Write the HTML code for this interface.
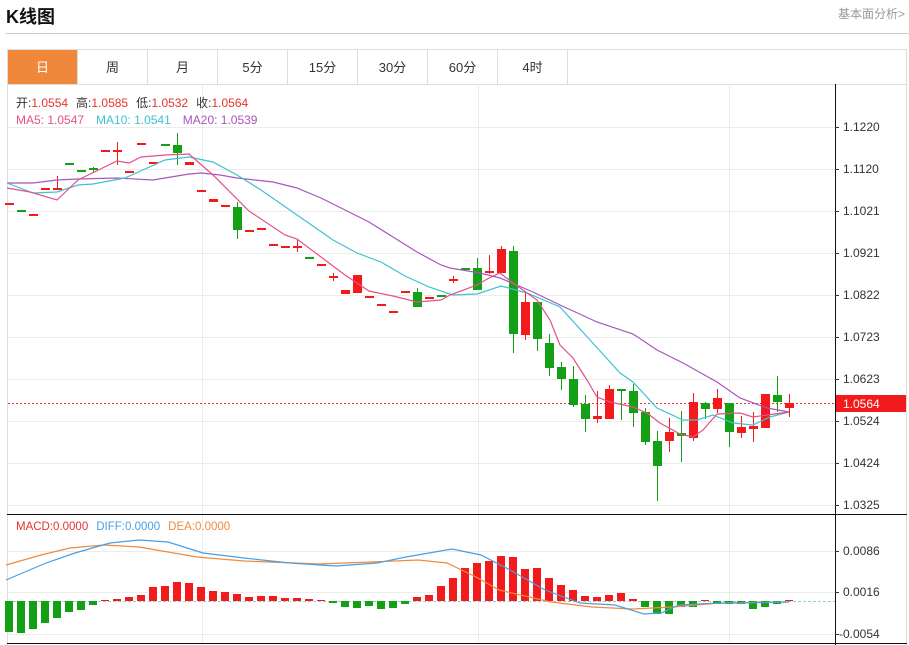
<!DOCTYPE html>
<html><head><meta charset="utf-8"><style>
body{margin:0;width:909px;height:645px;background:#fff;font-family:"Liberation Sans","Noto Sans CJK SC",sans-serif;position:relative;overflow:hidden}
.t{position:absolute;left:6px;top:3px;font-size:18px;font-weight:bold;color:#111}
.r{position:absolute;right:4px;top:5px;font-size:12px;color:#999}
.hr{position:absolute;left:6px;right:0;top:33px;border-top:1px solid #ccc}
.tabs{position:absolute;left:7px;top:49px;height:35px;width:900px;border:1px solid #ddd;border-bottom:none;box-sizing:border-box}
.tab{position:absolute;top:0;height:35px;width:70px;border-right:1px solid #ddd;box-sizing:border-box;text-align:center;line-height:35px;font-size:13px;color:#333}
svg{position:absolute;left:0;top:0}
</style></head><body>
<div class="t">K线图</div><div class="r">基本面分析&gt;</div><div class="hr"></div>
<div class="tabs">
<div class="tab" style="left:0;background:#f0883c;color:#fff">日</div>
<div class="tab" style="left:70px">周</div>
<div class="tab" style="left:140px">月</div>
<div class="tab" style="left:210px">5分</div>
<div class="tab" style="left:280px">15分</div>
<div class="tab" style="left:350px">30分</div>
<div class="tab" style="left:420px">60分</div>
<div class="tab" style="left:490px">4时</div>
</div>
<svg width="909" height="645" viewBox="0 0 909 645" font-family="Liberation Sans, Noto Sans CJK SC, sans-serif">
<g stroke="#ddd" stroke-width="1">
<line x1="7.5" y1="84" x2="7.5" y2="645"/><line x1="906.5" y1="84" x2="906.5" y2="645"/>
<line x1="7" y1="84.5" x2="907" y2="84.5"/>
</g>
<g stroke="#ececec" stroke-width="1">
<line x1="8" x2="835" y1="127.5" y2="127.5"/><line x1="8" x2="835" y1="169.5" y2="169.5"/><line x1="8" x2="835" y1="211.5" y2="211.5"/><line x1="8" x2="835" y1="253.5" y2="253.5"/><line x1="8" x2="835" y1="295.5" y2="295.5"/><line x1="8" x2="835" y1="337.5" y2="337.5"/><line x1="8" x2="835" y1="379.5" y2="379.5"/><line x1="8" x2="835" y1="421.5" y2="421.5"/><line x1="8" x2="835" y1="463.5" y2="463.5"/><line x1="8" x2="835" y1="505.5" y2="505.5"/>
<line x1="8" x2="835" y1="551.5" y2="551.5"/><line x1="8" x2="835" y1="592.5" y2="592.5"/><line x1="8" x2="835" y1="634.5" y2="634.5"/>
<line x1="202.5" x2="202.5" y1="84" y2="643"/><line x1="478.5" x2="478.5" y1="84" y2="643"/><line x1="729.5" x2="729.5" y1="84" y2="643"/>
</g>
<g stroke="#111" stroke-width="1">
<line x1="835.5" y1="84" x2="835.5" y2="645"/>
<line x1="7" y1="514.5" x2="907" y2="514.5"/>
<line x1="7" y1="643.5" x2="907" y2="643.5"/>
</g>
<g font-size="12" fill="#333">
<text x="843" y="131">1.1220</text><text x="843" y="173">1.1120</text><text x="843" y="215">1.1021</text><text x="843" y="257">1.0921</text><text x="843" y="299">1.0822</text><text x="843" y="341">1.0723</text><text x="843" y="383">1.0623</text><text x="843" y="425">1.0524</text><text x="843" y="467">1.0424</text><text x="843" y="509">1.0325</text>
<text x="843" y="555">0.0086</text><text x="843" y="596">0.0016</text><text x="839" y="638">-0.0054</text>
</g>
<g stroke="#333"><line x1="835" x2="839" y1="127.5" y2="127.5"/><line x1="835" x2="839" y1="169.5" y2="169.5"/><line x1="835" x2="839" y1="211.5" y2="211.5"/><line x1="835" x2="839" y1="253.5" y2="253.5"/><line x1="835" x2="839" y1="295.5" y2="295.5"/><line x1="835" x2="839" y1="337.5" y2="337.5"/><line x1="835" x2="839" y1="379.5" y2="379.5"/><line x1="835" x2="839" y1="421.5" y2="421.5"/><line x1="835" x2="839" y1="463.5" y2="463.5"/><line x1="835" x2="839" y1="505.5" y2="505.5"/><line x1="835" x2="839" y1="551.5" y2="551.5"/><line x1="835" x2="839" y1="592.5" y2="592.5"/><line x1="835" x2="839" y1="634.5" y2="634.5"/></g>
<line x1="8" x2="835" y1="403.5" y2="403.5" stroke="#f03030" stroke-dasharray="2,2"/>
<rect x="836" y="395" width="70" height="17" fill="#f21a1a"/><text x="843" y="408" font-size="12" fill="#fff">1.0564</text>
<g font-size="12">
<text x="16" y="107"><tspan fill="#333">开:</tspan><tspan fill="#e8312b">1.0554</tspan><tspan fill="#333" dx="8">高:</tspan><tspan fill="#e8312b">1.0585</tspan><tspan fill="#333" dx="8">低:</tspan><tspan fill="#e8312b">1.0532</tspan><tspan fill="#333" dx="8">收:</tspan><tspan fill="#e8312b">1.0564</tspan></text>
<text x="16" y="124"><tspan fill="#e4508a">MA5: 1.0547</tspan><tspan fill="#3ec3cf" dx="12">MA10: 1.0541</tspan><tspan fill="#a855c0" dx="12">MA20: 1.0539</tspan></text>
<text x="16" y="530" font-size="11.5"><tspan fill="#e8312b">MACD:0.0000</tspan><tspan fill="#4a9fe0" dx="8">DIFF:0.0000</tspan><tspan fill="#f08a3c" dx="8">DEA:0.0000</tspan></text>
</g>
<g id="c"></g>
<g fill="none" stroke-width="1.2">
<polyline stroke="#a855c0" points="7,183 33,183 57,180 78,179 117,178 153,180 189,174 201,173 220,175 237,178 273,182 297,188 321,198 345,210 369,222 393,237 417,252 441,265 450,268 480,273 500,278 533,292 560,305 597,322 633,334 657,350 683,363 717,382 740,398 767,408 789,412"/>
<polyline stroke="#3ec3cf" points="7,183 33,193 57,192 78,185 93,184 125,178 165,160 189,157 213,162 237,175 261,190 297,215 333,240 357,253 381,262 405,276 429,287 453,295 477,294 501,286 527,293 560,307 590,340 620,373 633,382 657,408 683,420 697,420 713,415 733,423 753,425 770,417 789,412"/>
<polyline stroke="#e4508a" points="7,188 30,192 57,200 78,180 117,161 129,163 141,157 165,155 189,154 213,175 249,211 285,235 297,239 321,257 345,275 369,291 393,296 417,302 441,300 450,295 477,285 489,278 500,273 513,283 537,300 550,320 560,345 573,358 587,380 597,397 610,402 633,407 647,413 660,423 680,434 693,437 703,430 717,414 740,413 753,417 767,415 789,412"/>
</g>
<line x1="8" x2="835" y1="601.5" y2="601.5" stroke="#9cc" stroke-dasharray="3,2"/>
<g id="m"></g>
<g fill="none" stroke-width="1.2">
<polyline stroke="#f08a3c" points="6,565 41,555 70,548 104,545 139,547 197,557 244,561 319,564 371,562 418,560 447,563 476,577 499,590 551,602 592,607 632,609 673,607 719,603 789,602"/>
<polyline stroke="#4a9fe0" points="6,580 46,563 75,553 110,543 139,540 168,542 203,553 244,558 290,563 336,566 377,563 406,557 452,549 481,555 510,570 545,590 580,603 615,605 644,614 661,613 679,605 719,603 742,603 789,602"/>
</g>
</svg>
<script>
var C=[[203,205,0,0,'r'],[210,212,0,0,'g'],[214,216,0,0,'r'],[188,190,0,0,'r'],[188,190,176,190,'r'],[163,165,0,0,'g'],[170,172,0,0,'g'],[168,170,167,172,'g'],[150,152,0,0,'r'],[150,152,142,165,'r'],[171,173,0,0,'r'],[143,145,0,0,'r'],[162,164,0,0,'r'],[144,146,0,0,'g'],[145,153,133,165,'g'],[162,165,0,0,'r'],[190,192,0,0,'r'],[199,202,0,0,'r'],[205,207,0,0,'r'],[207,230,202,239,'g'],[230,232,0,0,'r'],[228,230,0,0,'r'],[244,246,0,0,'r'],[246,248,0,0,'r'],[246,248,240,252,'r'],[257,259,0,0,'g'],[264,266,0,0,'r'],[276,278,273,281,'r'],[290,294,0,0,'r'],[275,293,0,0,'r'],[296,298,0,0,'r'],[304,306,0,0,'r'],[311,313,0,0,'r'],[291,293,0,0,'r'],[292,307,288,307,'g'],[297,299,0,0,'r'],[295,297,0,0,'g'],[279,281,276,283,'r'],[268,270,0,0,'g'],[268,290,258,290,'g'],[271,273,255,274,'r'],[249,273,246,273,'r'],[251,334,246,353,'g'],[302,335,293,340,'r'],[302,339,302,351,'g'],[343,368,334,376,'g'],[367,379,362,390,'g'],[379,405,366,407,'g'],[404,419,395,432,'g'],[416,419,391,423,'r'],[389,419,385,419,'r'],[389,391,389,420,'g'],[391,413,384,427,'g'],[412,442,408,445,'g'],[441,466,431,501,'g'],[432,441,418,452,'r'],[433,436,411,462,'g'],[402,438,393,441,'r'],[403,409,402,419,'g'],[398,409,389,413,'r'],[403,432,403,447,'g'],[427,433,416,438,'r'],[426,429,412,442,'r'],[394,428,394,428,'r'],[395,402,376,412,'g'],[403,408,394,417,'r']];
var M=[632,633,629,623,618,612,610,605,601,599,597,595,587,586,582,583,587,591,592,594,597,596,596,598,598,599,601,603,607,608,606,609,608,604,597,595,586,578,568,563,561,556,557,569,568,578,585,590,596,597,595,593,599,607,614,614,607,607,601,604,604,604,609,607,604,600];
var s='',m='';
C.forEach(function(c,i){var x=9+12*i,col=c[4]=='r'?'#f21a1a':'#14a014';
if(c[2])s+='<line x1="'+(x+.5)+'" x2="'+(x+.5)+'" y1="'+c[2]+'" y2="'+c[3]+'" stroke="'+col+'"/>';
s+='<rect x="'+(x-4)+'" y="'+c[0]+'" width="9" height="'+Math.max(2,c[1]-c[0])+'" fill="'+col+'"/>';});
M.forEach(function(v,i){var x=9+12*i;if(Math.abs(v-601)<1){v=600;}
var col=v<601?'#f21a1a':'#14a014';var y=Math.min(v,601),h=Math.max(1,Math.abs(v-601));
m+='<rect x="'+(x-4)+'" y="'+y+'" width="8" height="'+h+'" fill="'+col+'"/>';});
document.getElementById('c').innerHTML=s;document.getElementById('m').innerHTML=m;
</script>
</body></html>
